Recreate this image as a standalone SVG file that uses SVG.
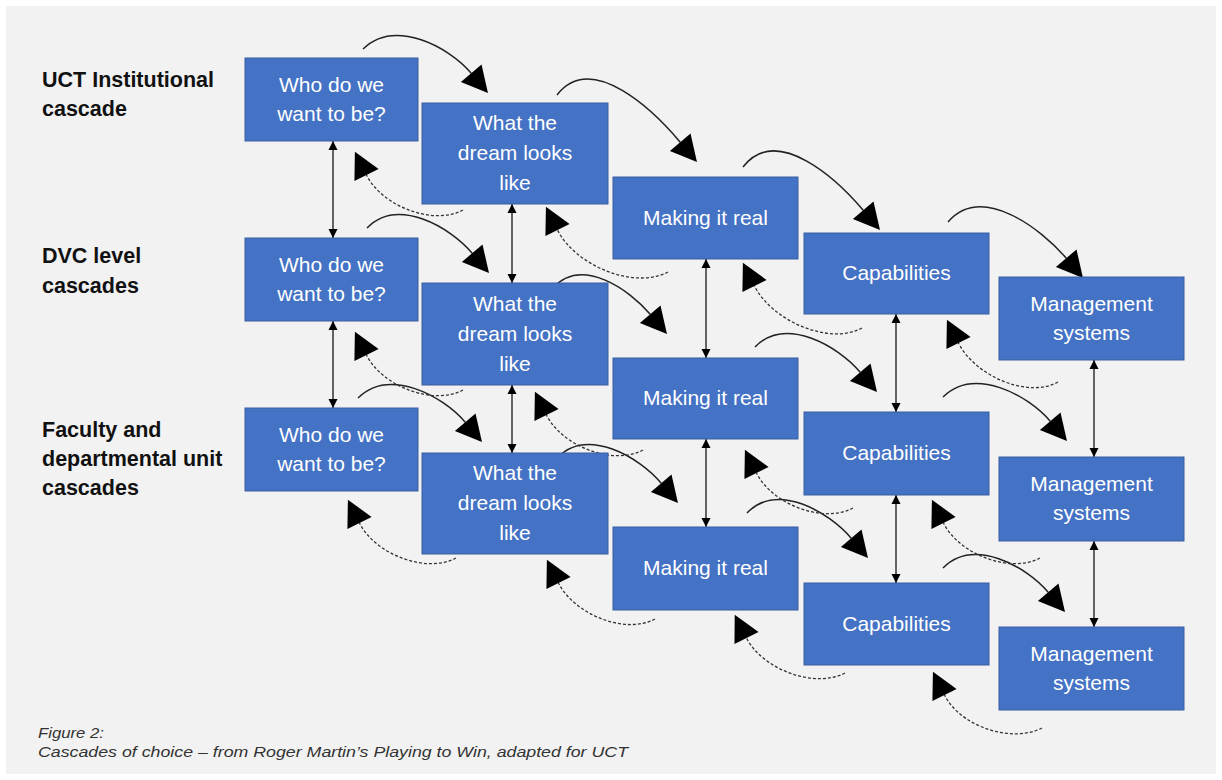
<svg xmlns="http://www.w3.org/2000/svg" width="1222" height="780" viewBox="0 0 1222 780">
<style>
.bx{fill:#4472C4;stroke:#3A5F9F;stroke-width:1}
.bt{font-family:"Liberation Sans",Arial,sans-serif;font-size:21px;fill:#ffffff;text-anchor:middle}
.lb{font-family:"Liberation Sans",Arial,sans-serif;font-size:21.5px;font-weight:bold;fill:#111111}
.cap{font-family:"Liberation Sans",Arial,sans-serif;font-size:15px;font-style:italic;fill:#333333}
.fw{fill:none;stroke:#222222;stroke-width:1.5;marker-end:url(#big)}
.bk{fill:none;stroke:#333333;stroke-width:1.3;stroke-dasharray:3 2;marker-end:url(#big)}
.vt{fill:none;stroke:#333333;stroke-width:1.5;marker-start:url(#sm);marker-end:url(#sm)}
</style>
<defs>
<marker id="big" markerUnits="userSpaceOnUse" markerWidth="28" markerHeight="28" refX="0" refY="13.5" orient="auto" overflow="visible">
<path d="M0,0 L26,13.5 L0,27 z" fill="#000000"/>
</marker>
<marker id="sm" markerUnits="userSpaceOnUse" markerWidth="10" markerHeight="10" refX="9" refY="4.5" orient="auto-start-reverse" overflow="visible">
<path d="M0,0 L9,4.5 L0,9 z" fill="#000000"/>
</marker>
</defs>
<rect x="0" y="0" width="1222" height="780" fill="#ffffff"/>
<rect x="6" y="6" width="1210" height="768" fill="#f2f2f2"/>

<g id="labels">
<text class="lb" x="42" y="87">UCT Institutional</text>
<text class="lb" x="42" y="116">cascade</text>
<text class="lb" x="42" y="263">DVC level</text>
<text class="lb" x="42" y="293">cascades</text>
<text class="lb" x="42" y="437">Faculty and</text>
<text class="lb" x="42" y="466">departmental unit</text>
<text class="lb" x="42" y="495">cascades</text>
</g>

<g id="connectors">
<path class="vt" d="M333,141 L333,238"/>
<path class="vt" d="M333,321 L333,408"/>
<path class="vt" d="M512,204 L512,283"/>
<path class="vt" d="M512,385 L512,453"/>
<path class="vt" d="M706,259 L706,358"/>
<path class="vt" d="M706,439 L706,527"/>
<path class="vt" d="M896,314 L896,412"/>
<path class="vt" d="M896,495 L896,583"/>
<path class="vt" d="M1094,360 L1094,457"/>
<path class="vt" d="M1094,541 L1094,627"/>

<path class="fw" d="M363,49 C394.3,18.2 448.6,46.4 471.2,73.2"/>
<path class="fw" d="M557,95 C592,50 654.9,112.2 680.2,142.2"/>
<path class="fw" d="M743,167 C777.3,122.9 838.4,180.9 863.2,210.2"/>
<path class="fw" d="M948,222 C981.8,182.8 1041.8,229.3 1066.2,258.2"/>
<path class="fw" d="M367,228 C397.5,196.5 450.1,227.1 472.2,253.2"/>
<path class="fw" d="M553,288 C581.5,255.8 629.6,289.8 650.2,314.2"/>
<path class="fw" d="M755,347 C785.5,315.5 838.1,346.1 860.2,372.2"/>
<path class="fw" d="M943,397 C974,366.2 1027.8,394.7 1050.2,421.2"/>
<path class="fw" d="M358,398 C389,367.2 442.8,395.7 465.2,422.2"/>
<path class="fw" d="M557,458 C587.3,426.5 639.3,457.3 661.2,483.2"/>
<path class="fw" d="M747,513 C777.3,481.5 829.3,512.3 851.2,538.2"/>
<path class="fw" d="M943,568 C973.5,537.2 1026.1,566.1 1048.2,592.2"/>

<path class="bk" d="M463,210 C433,226 382.1,206.3 366.5,175"/>
<path class="bk" d="M668,272 C634.1,289.9 575.1,265.4 557.5,230"/>
<path class="bk" d="M862,328 C828.9,345.9 771.7,320.5 754.5,286"/>
<path class="bk" d="M1058,382 C1027.1,399.1 974.5,375.2 958.5,343"/>
<path class="bk" d="M463,390 C433,406 382.1,386.3 366.5,355"/>
<path class="bk" d="M643,450 C613,466 562.1,446.3 546.5,415"/>
<path class="bk" d="M853,508 C823,524 772.1,504.3 756.5,473"/>
<path class="bk" d="M1040,558 C1010,574 959.1,554.3 943.5,523"/>
<path class="bk" d="M456,558 C426,574 375.1,554.3 359.5,523"/>
<path class="bk" d="M655,619 C625,635 574.1,614.3 558.5,583"/>
<path class="bk" d="M845,673 C814.4,689 762.4,669.3 746.5,638"/>
<path class="bk" d="M1042,728 C1011.7,743.5 960.2,726.6 944.5,695"/>
</g>

<g id="who1"><rect class="bx" x="245" y="58" width="173" height="83"/><text class="bt" x="331.5" y="91.5">Who do we</text><text class="bt" x="331.5" y="120.5">want to be?</text></g>
<g id="who2"><rect class="bx" x="245" y="238" width="173" height="83"/><text class="bt" x="331.5" y="271.5">Who do we</text><text class="bt" x="331.5" y="300.5">want to be?</text></g>
<g id="who3"><rect class="bx" x="245" y="408" width="173" height="83"/><text class="bt" x="331.5" y="441.5">Who do we</text><text class="bt" x="331.5" y="470.5">want to be?</text></g>

<g id="dream1"><rect class="bx" x="422" y="103" width="186" height="101"/><text class="bt" x="515" y="130">What the</text><text class="bt" x="515" y="160">dream looks</text><text class="bt" x="515" y="190">like</text></g>
<g id="dream2"><rect class="bx" x="422" y="283" width="186" height="102"/><text class="bt" x="515" y="310.5">What the</text><text class="bt" x="515" y="340.5">dream looks</text><text class="bt" x="515" y="370.5">like</text></g>
<g id="dream3"><rect class="bx" x="422" y="453" width="186" height="101"/><text class="bt" x="515" y="480">What the</text><text class="bt" x="515" y="510">dream looks</text><text class="bt" x="515" y="540">like</text></g>

<g id="real1"><rect class="bx" x="613" y="177" width="185" height="82"/><text class="bt" x="705.5" y="225">Making it real</text></g>
<g id="real2"><rect class="bx" x="613" y="358" width="185" height="81"/><text class="bt" x="705.5" y="405">Making it real</text></g>
<g id="real3"><rect class="bx" x="613" y="527" width="185" height="83"/><text class="bt" x="705.5" y="575">Making it real</text></g>

<g id="cap1"><rect class="bx" x="804" y="233" width="185" height="81"/><text class="bt" x="896.5" y="280">Capabilities</text></g>
<g id="cap2"><rect class="bx" x="804" y="412" width="185" height="83"/><text class="bt" x="896.5" y="460">Capabilities</text></g>
<g id="cap3"><rect class="bx" x="804" y="583" width="185" height="82"/><text class="bt" x="896.5" y="630.5">Capabilities</text></g>

<g id="mgmt1"><rect class="bx" x="999" y="277" width="185" height="83"/><text class="bt" x="1091.5" y="310.5">Management</text><text class="bt" x="1091.5" y="339.5">systems</text></g>
<g id="mgmt2"><rect class="bx" x="999" y="457" width="185" height="84"/><text class="bt" x="1091.5" y="491">Management</text><text class="bt" x="1091.5" y="520">systems</text></g>
<g id="mgmt3"><rect class="bx" x="999" y="627" width="185" height="83"/><text class="bt" x="1091.5" y="660.5">Management</text><text class="bt" x="1091.5" y="689.5">systems</text></g>

<g id="caption">
<text class="cap" x="38" y="738" textLength="66" lengthAdjust="spacingAndGlyphs">Figure 2:</text>
<text class="cap" x="38" y="757" textLength="590" lengthAdjust="spacingAndGlyphs">Cascades of choice – from Roger Martin’s Playing to Win, adapted for UCT</text>
</g>
</svg>
